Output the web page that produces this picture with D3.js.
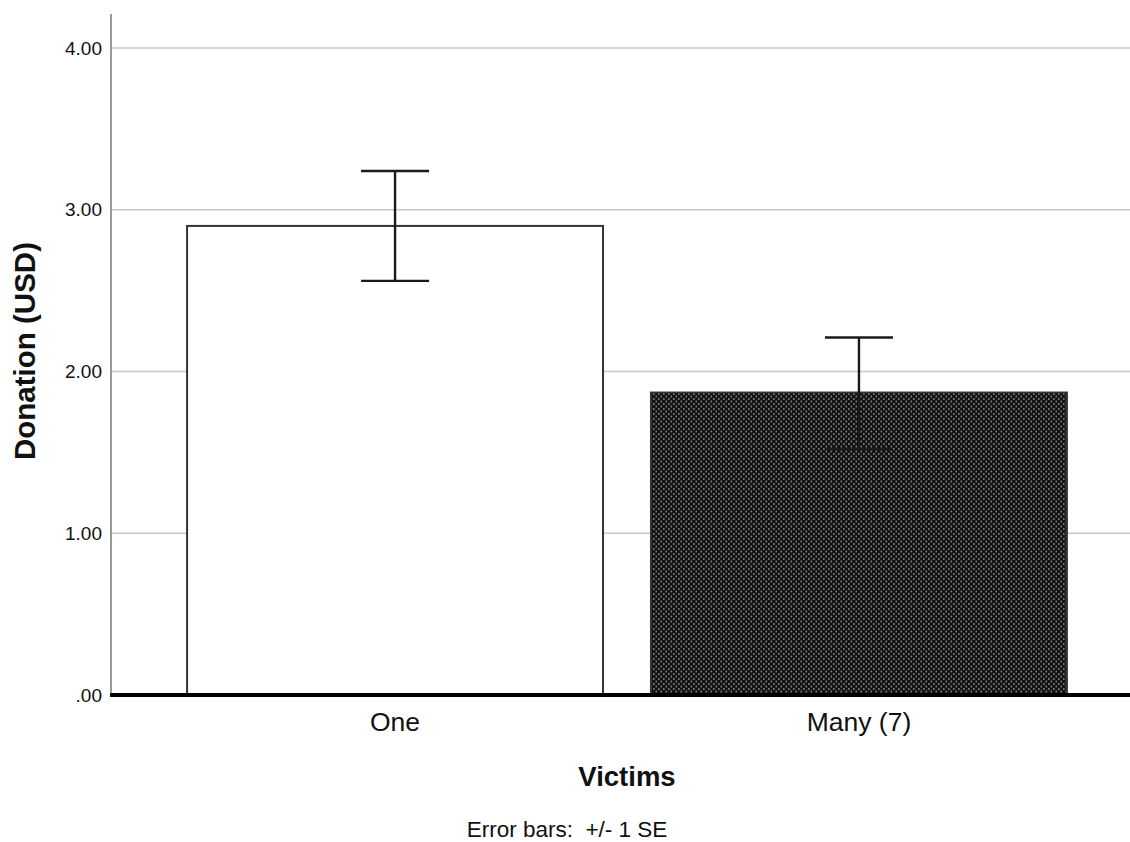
<!DOCTYPE html>
<html>
<head>
<meta charset="utf-8">
<script src="https://cdn.jsdelivr.net/npm/d3@7"></script>
<style>
  body { margin: 0; background: #fff; }
  text { font-family: Arial, "Liberation Sans", sans-serif; fill: #111; }
</style>
</head>
<body>
<div id="chart"></div>
<script>
// data
const categories = ["One", "Many (7)"];
const means = [2.90, 1.87];
const errLow = [2.56, 1.52];
const errHigh = [3.24, 2.21];
const yTicks = [0, 1, 2, 3, 4];

const width = 1130, height = 842;
const margin = {top: 14, left: 111, baseline: 695};

const svg = d3.select("#chart").append("svg")
    .attr("width", width)
    .attr("height", height);

// checkered fill for the second bar
const defs = svg.append("defs");
const pat = defs.append("pattern")
    .attr("id", "check")
    .attr("patternUnits", "userSpaceOnUse")
    .attr("width", 5)
    .attr("height", 5);
pat.append("rect").attr("width", 5).attr("height", 5).attr("fill", "#111");
pat.append("rect").attr("x", 0.5).attr("y", 0.5).attr("width", 1.6).attr("height", 2).attr("fill", "#777");
pat.append("rect").attr("x", 3).attr("y", 3).attr("width", 1.6).attr("height", 2).attr("fill", "#777");

const y = d3.scaleLinear()
    .domain([0, 4])
    .range([margin.baseline, 48]);

const x = d3.scaleBand()
    .domain(categories)
    .range([margin.left, 1143])
    .paddingInner(0.1034)
    .paddingOuter(0.164);

// grid lines
svg.append("g")
    .selectAll("line")
    .data(yTicks.filter(d => d > 0))
    .enter().append("line")
    .attr("x1", margin.left)
    .attr("x2", width)
    .attr("y1", d => y(d))
    .attr("y2", d => y(d))
    .attr("stroke", "#c8c8c8")
    .attr("stroke-width", 1.5);

// y axis
const yAxis = svg.append("g")
    .attr("transform", `translate(${margin.left},0)`)
    .call(d3.axisLeft(y).tickValues(yTicks).tickSize(0).tickPadding(9)
        .tickFormat(d => d === 0 ? ".00" : d3.format(".2f")(d)));
yAxis.select(".domain").remove();
yAxis.selectAll("text")
    .style("font-size", "19px")
    .style("font-family", "Arial, 'Liberation Sans', sans-serif")
    .attr("fill", "#111");

svg.append("line")
    .attr("x1", margin.left).attr("x2", margin.left)
    .attr("y1", margin.top).attr("y2", margin.baseline)
    .attr("stroke", "#999")
    .attr("stroke-width", 2);

// bars
svg.append("g")
    .selectAll("rect")
    .data(categories)
    .enter().append("rect")
    .attr("x", d => x(d))
    .attr("y", (d, i) => y(means[i]))
    .attr("width", x.bandwidth())
    .attr("height", (d, i) => y(0) - y(means[i]))
    .attr("fill", (d, i) => i === 0 ? "#fff" : "url(#check)")
    .attr("stroke", "#333")
    .attr("stroke-width", 2);

// error bars
const capHalf = 34;
const eb = svg.append("g")
    .selectAll("g")
    .data(categories)
    .enter().append("g")
    .attr("stroke", "#1a1a1a")
    .attr("stroke-width", 2.4);
eb.append("line")
    .attr("x1", d => x(d) + x.bandwidth() / 2)
    .attr("x2", d => x(d) + x.bandwidth() / 2)
    .attr("y1", (d, i) => y(errLow[i]))
    .attr("y2", (d, i) => y(errHigh[i]));
eb.append("line")
    .attr("x1", d => x(d) + x.bandwidth() / 2 - capHalf)
    .attr("x2", d => x(d) + x.bandwidth() / 2 + capHalf)
    .attr("y1", (d, i) => y(errHigh[i]))
    .attr("y2", (d, i) => y(errHigh[i]));
eb.append("line")
    .attr("x1", d => x(d) + x.bandwidth() / 2 - capHalf)
    .attr("x2", d => x(d) + x.bandwidth() / 2 + capHalf)
    .attr("y1", (d, i) => y(errLow[i]))
    .attr("y2", (d, i) => y(errLow[i]));

// baseline
svg.append("line")
    .attr("x1", margin.left - 1).attr("x2", width)
    .attr("y1", y(0)).attr("y2", y(0))
    .attr("stroke", "#000")
    .attr("stroke-width", 4);

// x labels
svg.append("g")
    .selectAll("text")
    .data(categories)
    .enter().append("text")
    .attr("x", d => x(d) + x.bandwidth() / 2)
    .attr("y", 731)
    .attr("text-anchor", "middle")
    .style("font-size", "26.5px")
    .text(d => d);

// axis titles
svg.append("text")
    .attr("x", 627)
    .attr("y", 786)
    .attr("text-anchor", "middle")
    .style("font-size", "27.5px")
    .style("font-weight", "bold")
    .text("Victims");

svg.append("text")
    .attr("transform", "translate(35,351) rotate(-90)")
    .attr("text-anchor", "middle")
    .style("font-size", "29.5px")
    .style("font-weight", "bold")
    .text("Donation (USD)");

svg.append("text")
    .attr("x", 567)
    .attr("y", 837)
    .attr("text-anchor", "middle")
    .style("font-size", "22.5px")
    .style("white-space", "pre")
    .text("Error bars:  +/- 1 SE");
</script>
</body>
</html>
